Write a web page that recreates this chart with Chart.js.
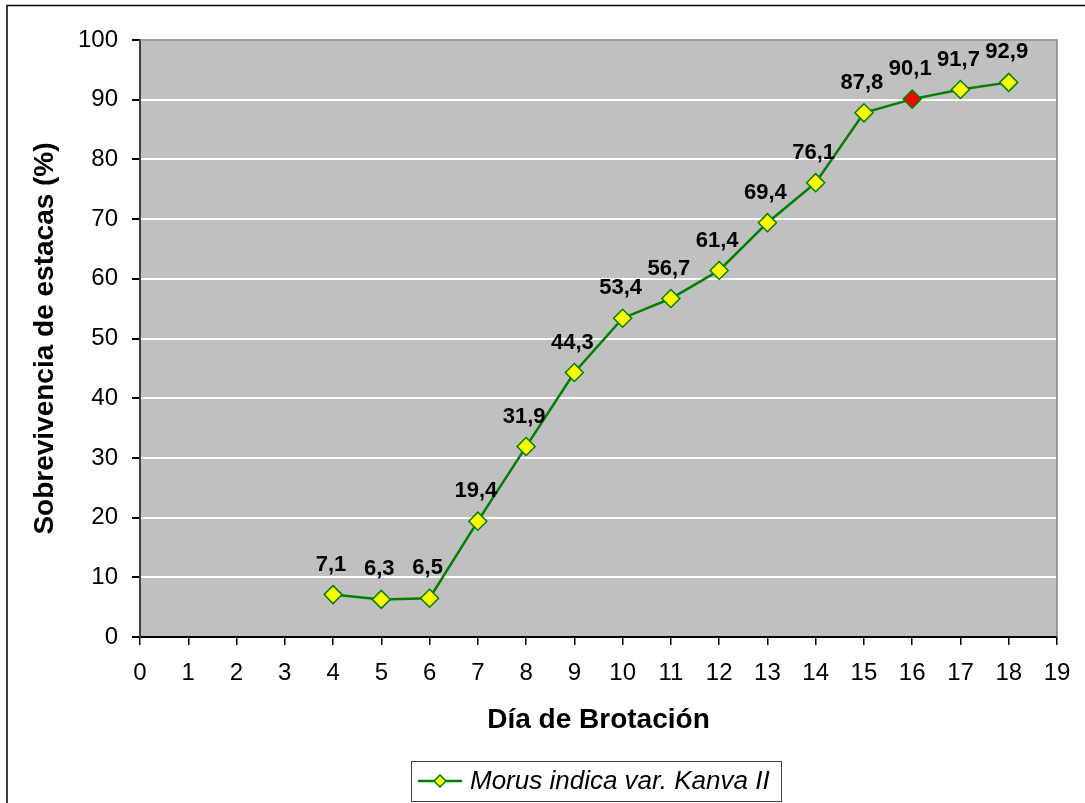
<!DOCTYPE html>
<html>
<head>
<meta charset="utf-8">
<script src="https://cdn.jsdelivr.net/npm/chart.js@4/dist/chart.umd.min.js"></script>
<style>
  html, body { margin: 0; padding: 0; background: #fff; }
  #wrap { width: 1085px; height: 803px; position: relative; }
</style>
</head>
<body>
<div id="wrap"><canvas id="myChart" width="1085" height="803"></canvas></div>
<script>
// datos
var dias = [4, 5, 6, 7, 8, 9, 10, 11, 12, 13, 14, 15, 16, 17, 18];
var sobrevivencia = [7.1, 6.3, 6.5, 19.4, 31.9, 44.3, 53.4, 56.7, 61.4, 69.4, 76.1, 87.8, 90.1, 91.7, 92.9];
var diaResaltado = 16;
var serieNombre = "Morus indica var. Kanva II";
var tituloX = "Día de Brotación";
var tituloY = "Sobrevivencia de estacas (%)";

var verde = "#008000";
var amarillo = "#ffff00";
var fuente = "'Liberation Sans', Arial, sans-serif";
var puntos = [];
var colores = [];
for (var i = 0; i < dias.length; i++) {
  puntos.push({ x: dias[i], y: sobrevivencia[i] });
  colores.push(dias[i] === diaResaltado ? "#ff0000" : amarillo);
}

function coma(v) { return v.toFixed(1).replace(".", ","); }

var fondo = {
  id: "fondo",
  beforeDraw: function (chart) {
    var c = chart.ctx, a = chart.chartArea;
    c.save();
    c.fillStyle = "#c0c0c0";
    c.fillRect(a.left, a.top, a.right - a.left, a.bottom - a.top);
    c.restore();
  },
  beforeDatasetsDraw: function (chart) {
    var c = chart.ctx, a = chart.chartArea;
    c.save();
    c.strokeStyle = "#808080";
    c.lineWidth = 1.5;
    c.beginPath();
    c.moveTo(a.left, a.top);
    c.lineTo(a.right, a.top);
    c.lineTo(a.right, a.bottom);
    c.stroke();
    c.restore();
  },
  afterDraw: function (chart) {
    var c = chart.ctx;
    c.save();
    // etiquetas de valores
    var meta = chart.getDatasetMeta(0);
    c.font = "bold 22px " + fuente;
    c.fillStyle = "#000";
    c.textAlign = "center";
    c.textBaseline = "middle";
    meta.data.forEach(function (p, i) {
      c.fillText(coma(sobrevivencia[i]), p.x - 2, p.y - 30);
    });
    // marco exterior
    c.strokeStyle = "#000";
    c.lineWidth = 1.5;
    c.beginPath();
    c.moveTo(7, 803);
    c.lineTo(7, 5.5);
    c.lineTo(1085, 5.5);
    c.stroke();
    // leyenda
    c.lineWidth = 1;
    c.strokeStyle = "#404040";
    c.strokeRect(411.5, 761.5, 370, 40);
    c.strokeStyle = verde;
    c.lineWidth = 2.5;
    c.beginPath();
    c.moveTo(418, 781);
    c.lineTo(462, 781);
    c.stroke();
    c.fillStyle = amarillo;
    c.lineWidth = 1.5;
    c.beginPath();
    c.moveTo(440, 775); c.lineTo(446, 781); c.lineTo(440, 787); c.lineTo(434, 781);
    c.closePath();
    c.fill();
    c.stroke();
    c.fillStyle = "#000";
    c.font = "italic 26px " + fuente;
    c.textAlign = "left";
    c.fillText(serieNombre, 470, 782);
    c.restore();
  }
};

new Chart(document.getElementById("myChart"), {
  type: "line",
  data: {
    datasets: [{
      label: serieNombre,
      data: puntos,
      borderColor: verde,
      borderWidth: 2.5,
      pointStyle: "rectRot",
      pointRadius: 9,
      pointHoverRadius: 9,
      pointBackgroundColor: colores,
      pointBorderColor: verde,
      pointBorderWidth: 1.5,
      tension: 0
    }]
  },
  options: {
    responsive: false,
    animation: false,
    layout: { padding: { top: 40, right: 28, left: 0, bottom: 66 } },
    plugins: {
      legend: { display: false },
      tooltip: { enabled: false }
    },
    scales: {
      x: {
        type: "linear",
        min: 0,
        max: 19,
        afterFit: function (s) { s.height = 100; },
        ticks: {
          stepSize: 1,
          padding: 14,
          color: "#000",
          font: { family: fuente, size: 24 }
        },
        grid: { drawOnChartArea: false, color: "#000", tickLength: 8, lineWidth: 1.5 },
        border: { color: "#000", width: 2 },
        title: {
          display: true,
          text: tituloX,
          color: "#000",
          padding: { top: 0, bottom: 0 },
          font: { family: fuente, size: 28, weight: "bold" }
        }
      },
      y: {
        min: 0,
        max: 100,
        afterFit: function (s) { s.width = 140; },
        ticks: {
          stepSize: 10,
          padding: 14,
          color: "#000",
          font: { family: fuente, size: 24 }
        },
        grid: { color: "#ffffff", lineWidth: 2, tickColor: "#000", tickLength: 8 },
        border: { color: "#404040", width: 2 },
        title: {
          display: true,
          text: tituloY,
          color: "#000",
          padding: { top: 28, bottom: 0 },
          font: { family: fuente, size: 28, weight: "bold" }
        }
      }
    }
  },
  plugins: [fondo]
});
</script>
</body>
</html>
